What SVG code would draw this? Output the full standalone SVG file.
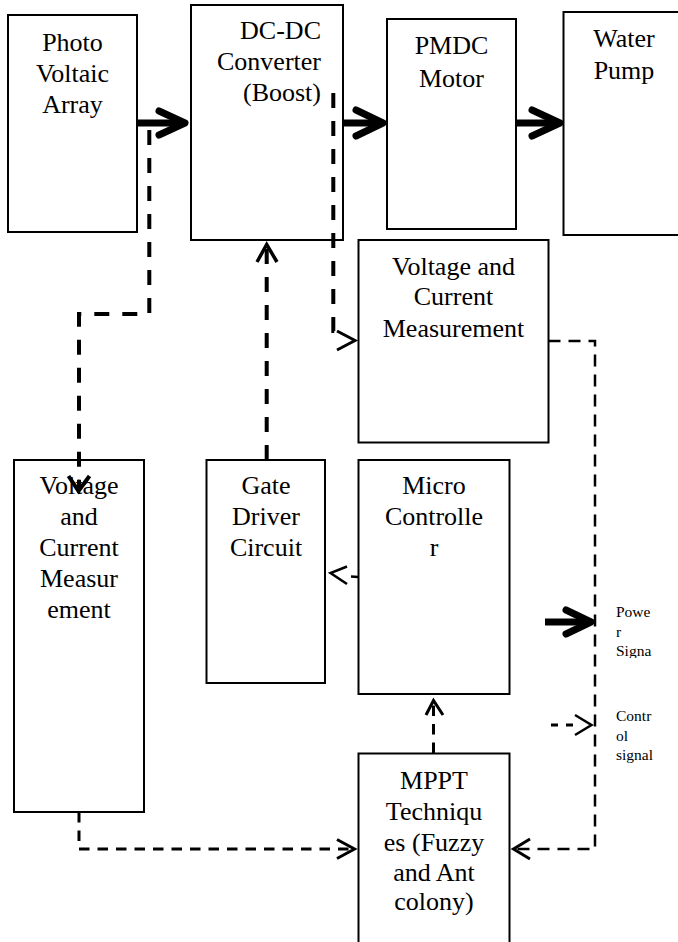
<svg xmlns="http://www.w3.org/2000/svg" width="678" height="942" viewBox="0 0 678 942">
<style>
.box{fill:#fff;stroke:#000;stroke-width:2}
.t{font-family:"Liberation Serif","Times New Roman",serif;font-size:26px;fill:#000;text-anchor:middle}
.te{text-anchor:end}
.lg{font-family:"Liberation Serif","Times New Roman",serif;font-size:15.5px;fill:#000}
.pw{fill:none;stroke:#000;stroke-width:7}
.ph{fill:none;stroke:#000;stroke-width:7;stroke-linecap:round;stroke-linejoin:round}
.d1{fill:none;stroke:#000;stroke-width:4;stroke-dasharray:15 13}
.d2{fill:none;stroke:#000;stroke-width:2.5;stroke-dasharray:12 8}
.d3{fill:none;stroke:#000;stroke-width:3;stroke-dasharray:10.5 8}
.ah{fill:none;stroke:#000;stroke-width:3;stroke-linecap:butt;stroke-linejoin:miter}
</style>
<defs>
<clipPath id="cpPow"><rect x="610" y="598" width="68" height="60"/></clipPath>
<clipPath id="cpCtl"><rect x="610" y="702" width="68" height="61"/></clipPath>
</defs>
<rect width="678" height="942" fill="#fff"/>

<g id="pv-array">
<rect class="box" x="8" y="15" width="129" height="217"/>
<text class="t" x="72.5" y="51">Photo</text>
<text class="t" x="72.5" y="82">Voltaic</text>
<text class="t" x="72.5" y="113">Array</text>
</g>

<g id="dcdc-converter">
<rect class="box" x="191" y="5" width="152" height="235"/>
<text class="t te" x="321" y="39">DC-DC</text>
<text class="t te" x="321" y="70">Converter</text>
<text class="t te" x="321" y="101">(Boost)</text>
</g>

<g id="pmdc-motor">
<rect class="box" x="387" y="19" width="129" height="210"/>
<text class="t" x="451.5" y="54">PMDC</text>
<text class="t" x="451.5" y="87">Motor</text>
</g>

<g id="water-pump">
<rect class="box" x="563.5" y="12" width="140" height="223"/>
<text class="t" x="624" y="47">Water</text>
<text class="t" x="624" y="79">Pump</text>
</g>

<g id="vc-measurement-right">
<rect class="box" x="358.5" y="240" width="190" height="202.5"/>
<text class="t" x="453.5" y="275">Voltage and</text>
<text class="t" x="453.5" y="305">Current</text>
<text class="t" x="453.5" y="337">Measurement</text>
</g>

<g id="vc-measurement-left">
<rect class="box" x="14" y="460" width="130" height="352"/>
<text class="t" x="79" y="494">Voltage</text>
<text class="t" x="79" y="525">and</text>
<text class="t" x="79" y="556">Current</text>
<text class="t" x="79" y="587">Measur</text>
<text class="t" x="79" y="618">ement</text>
</g>

<g id="gate-driver">
<rect class="box" x="206.5" y="460" width="118.5" height="223"/>
<text class="t" x="266" y="494">Gate</text>
<text class="t" x="266" y="525">Driver</text>
<text class="t" x="266" y="556">Circuit</text>
</g>

<g id="micro-controller">
<rect class="box" x="358.5" y="460" width="151" height="234"/>
<text class="t" x="434" y="494">Micro</text>
<text class="t" x="434" y="525">Controlle</text>
<text class="t" x="434" y="556">r</text>
</g>

<g id="mppt">
<rect class="box" x="358.5" y="753.5" width="151" height="200"/>
<text class="t" x="434" y="789">MPPT</text>
<text class="t" x="434" y="820">Techniqu</text>
<text class="t" x="434" y="850.5">es (Fuzzy</text>
<text class="t" x="434" y="880.5">and Ant</text>
<text class="t" x="434" y="910">colony)</text>
</g>

<g id="connectors">
<!-- power flow -->
<line class="pw" x1="137" y1="123" x2="184" y2="123"/>
<path class="ph" d="M159,111 L185,123 L159,135"/>
<line class="pw" x1="343" y1="123" x2="382" y2="123"/>
<path class="ph" d="M356,110 L383,123 L356,136"/>
<line class="pw" x1="516" y1="123" x2="559" y2="123"/>
<path class="ph" d="M532,110 L560,123 L532,136"/>

<!-- PV tap to left measurement -->
<path class="d1" d="M149.3,130 V314 H79 V489"/>
<path class="ah" style="stroke-width:4" d="M68.5,476 L78.5,491 L89.5,476"/>

<!-- gate driver to converter -->
<path class="d1" d="M266.7,460 V247"/>
<path class="ah" style="stroke-width:3.5" d="M257,262 L266.7,244.5 L277,262"/>

<!-- converter output tap to right measurement -->
<path class="d1" d="M333.3,93 V331 H343"/>
<path class="ah" d="M337,331 L355,340.5 L337,350"/>

<!-- right measurement to MPPT -->
<path class="d2" d="M548.5,341 H595 V849 H516"/>
<path class="ah" d="M530,839 L513.5,849 L530,859"/>

<!-- left measurement to MPPT -->
<path class="d3" d="M79,812 V849 H352"/>
<path class="ah" d="M337,839.5 L354.5,849 L337,858.5"/>

<!-- MPPT to micro controller -->
<path class="d3" d="M433.5,753 V703"/>
<path class="ah" d="M426,715 L433.5,700.5 L443,715"/>

<!-- micro controller to gate driver -->
<line class="ah" style="stroke-width:2.5" x1="358" y1="577" x2="351" y2="576.5"/>
<path class="ah" style="stroke-width:2.5" d="M347,566.5 L330.5,573 L347,584"/>
</g>

<g id="legend-power">
<line class="pw" x1="545" y1="622" x2="589" y2="622"/>
<path class="ph" d="M566,610 L591,622 L566,634"/>
<g clip-path="url(#cpPow)">
<text class="lg" x="616" y="617">Powe</text>
<text class="lg" x="616" y="636.5">r</text>
<text class="lg" x="616" y="655.5">Signa</text>
</g>
</g>

<g id="legend-control">
<path class="ah" style="stroke-dasharray:7 8" d="M551,725 H574"/>
<path class="ah" style="stroke-width:2.5" d="M575,715 L591.5,725 L575,735"/>
<g clip-path="url(#cpCtl)">
<text class="lg" x="616" y="721">Contr</text>
<text class="lg" x="616" y="740.5">ol</text>
<text class="lg" x="616" y="760">signal</text>
</g>
</g>
</svg>
